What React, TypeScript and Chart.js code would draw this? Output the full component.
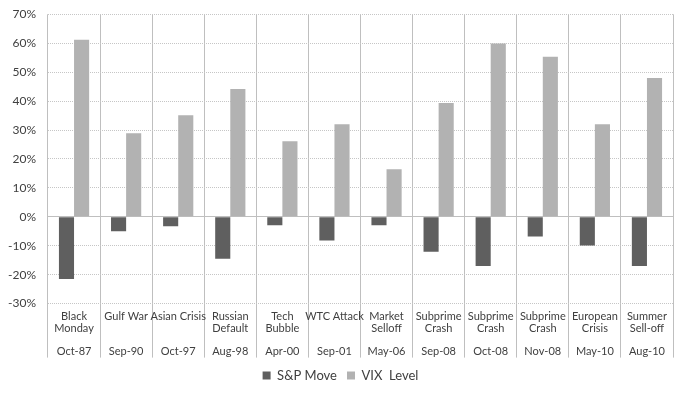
import React, { useEffect, useRef } from "react";
import { Chart, registerables } from "chart.js";

Chart.register(...registerables);

const eventNames: string[][] = [
  ["Black", "Monday"],
  ["Gulf War"],
  ["Asian Crisis"],
  ["Russian", "Default"],
  ["Tech", "Bubble"],
  ["WTC Attack"],
  ["Market", "Selloff"],
  ["Subprime", "Crash"],
  ["Subprime", "Crash"],
  ["Subprime", "Crash"],
  ["European", "Crisis"],
  ["Summer", "Sell-off"],
];
const eventDates = ["Oct-87", "Sep-90", "Oct-97", "Aug-98", "Apr-00", "Sep-01", "May-06", "Sep-08", "Oct-08", "Nov-08", "May-10", "Aug-10"];
const spMove = [-21.5, -5.0, -3.3, -14.5, -2.9, -8.2, -2.9, -12.1, -17.0, -6.8, -9.9, -17.0];
const vixLevel = [61.2, 28.9, 35.1, 44.2, 26.1, 32.0, 16.4, 39.3, 59.9, 55.3, 32.0, 48.0];
const yMin = -30;
const yMax = 70;
const yStep = 10;

// category label = event name lines, a blank line, then the date
const categoryLabels = eventNames.map((n, i) => [n[0], n[1] ?? "", "", eventDates[i]]);

const FONT = "Lato, 'Open Sans', sans-serif";
const TEXT = "#404040";
const GRID = "#bfbfbf";

export default function App() {
  const ref = useRef<HTMLCanvasElement>(null);
  useEffect(() => {
    if (!ref.current) return;
    const chart = new Chart(ref.current, {
      type: "bar",
      data: {
        labels: categoryLabels as any,
        datasets: [
          { label: "S&P Move", data: spMove, backgroundColor: "#5f5f5f", categoryPercentage: 0.58, barPercentage: 1 },
          { label: "VIX  Level", data: vixLevel, backgroundColor: "#b2b2b2", categoryPercentage: 0.58, barPercentage: 1 },
        ],
      },
      options: {
        animation: false,
        responsive: true,
        maintainAspectRatio: false,
        layout: { padding: { left: 0, right: 8, top: -12, bottom: -3 } },
        plugins: {
          tooltip: { enabled: false },
          legend: {
            position: "bottom",
            labels: {
              boxWidth: 8,
              boxHeight: 8,
              padding: 10,
              color: TEXT,
              font: { family: FONT, size: 13 },
            },
          },
        },
        scales: {
          x: {
            type: "category",
            position: "bottom",
            offset: true,
            grid: { offset: true, color: GRID, tickLength: 54, drawTicks: true, lineWidth: 1 },
            border: { display: false },
            title: { display: true, text: " ", padding: 0, color: "rgba(0,0,0,0)", font: { family: FONT, size: 11, lineHeight: "38.9px" } },
            ticks: { color: TEXT, mirror: true, padding: -18.75, maxRotation: 0, autoSkip: false, font: { family: FONT, size: 11, lineHeight: "11.5px" } },
          },
          y: {
            min: yMin,
            max: yMax,
            afterFit: (scale: any) => {
              scale.width = 40;
              scale.paddingTop = 6.3;
              scale.paddingBottom = 0;
            },
            ticks: {
              stepSize: yStep,
              color: TEXT,
              padding: 12,
              font: { family: FONT, size: 12 },
              callback: (v: any) => v + "%",
            },
            grid: {
              drawTicks: false,
              color: (ctx: any) => (ctx.tick && ctx.tick.value === 0 ? GRID : "#c6c6c6"),
            },
            border: {
              display: false,
              dash: (ctx: any) => (ctx.tick && ctx.tick.value === 0 ? [] : [1, 1]),
            } as any,
          },
        },
      } as any,
    });
    return () => chart.destroy();
  }, []);
  return (
    <div style={{ width: 673, height: 381, position: "relative" }}>
      <canvas ref={ref} />
    </div>
  );
}
